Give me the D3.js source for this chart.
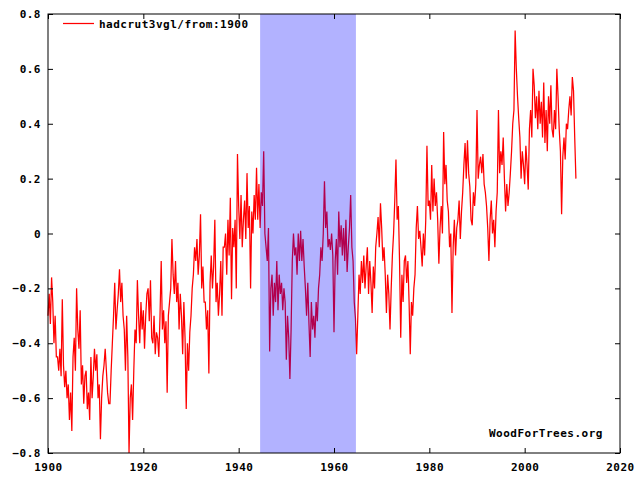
<!DOCTYPE html>
<html>
<head>
<meta charset="utf-8">
<script src="https://cdn.jsdelivr.net/npm/d3@7"></script>
<style>
  body { margin: 0; background: #fff; }
  text { font-family: "DejaVu Sans Mono", monospace; font-weight: bold; font-size: 11px; letter-spacing: 0.5px; fill: #000; }
</style>
</head>
<body>
<div id="chart"></div>
<script>
// hadcrut3vgl monthly anomaly at quarterly steps
const startYear = 1900;
const stepsPerYear = 4;
const anomaly = [
  -0.30, -0.22, -0.33, -0.16,  // 1900
  -0.25, -0.40, -0.30, -0.45,
  -0.45, -0.50, -0.42, -0.52,
  -0.24, -0.48, -0.56, -0.50,
  -0.60, -0.55, -0.68, -0.58,
  -0.72, -0.45, -0.38, -0.50,
  -0.20, -0.35, -0.42, -0.28,
  -0.55, -0.48, -0.62, -0.52,
  -0.50, -0.64, -0.58, -0.68,
  -0.45, -0.60, -0.52, -0.42,
  -0.50, -0.44, -0.60, -0.55,  // 1910
  -0.75, -0.60, -0.52, -0.48,
  -0.42, -0.50, -0.58, -0.62,
  -0.62, -0.50, -0.40, -0.30,
  -0.18, -0.35, -0.28, -0.22,
  -0.13, -0.25, -0.18, -0.30,
  -0.35, -0.50, -0.30, -0.45,
  -0.80, -0.60, -0.55, -0.68,
  -0.50, -0.35, -0.40, -0.17,
  -0.30, -0.40, -0.25, -0.35,
  -0.28, -0.42, -0.30, -0.22,  // 1920
  -0.20, -0.32, -0.17, -0.38,
  -0.40, -0.30, -0.44, -0.36,
  -0.38, -0.45, -0.30, -0.10,
  -0.35, -0.28, -0.40, -0.32,
  -0.58, -0.30, -0.25, -0.20,
  -0.02, -0.15, -0.22, -0.10,
  -0.25, -0.18, -0.35, -0.22,
  -0.30, -0.44, -0.25, -0.38,
  -0.64, -0.40, -0.50, -0.36,
  -0.30, -0.20, -0.15, -0.05,  // 1930
  -0.10, -0.02, -0.15, -0.08,
   0.07, -0.20, -0.12, -0.25,
  -0.25, -0.35, -0.28, -0.51,
  -0.18, -0.08, -0.20, -0.12,
   0.05, -0.25, -0.18, -0.30,
  -0.22, -0.10, -0.30, -0.05,
  -0.05,  0.00, -0.15,  0.05,
  -0.08,  0.13, -0.24,  0.02,
  -0.05,  0.05, -0.20,  0.29,
   0.10, -0.02,  0.14, -0.05,  // 1940
   0.05,  0.12, -0.02,  0.22,
   0.02,  0.10, -0.20,  0.08,
   0.00,  0.14,  0.05,  0.24,
   0.05,  0.18,  0.02,  0.15,
   0.10,  0.30,  0.00, -0.05,
  -0.10,  0.02, -0.43, -0.20,
  -0.15, -0.30, -0.18, -0.25,
  -0.10, -0.28, -0.15, -0.22,
  -0.18, -0.28, -0.20, -0.25,
  -0.46, -0.30, -0.38, -0.53,  // 1950
  -0.35, -0.10,  0.00, -0.08,
  -0.05, -0.15,  0.00, -0.10,
   0.01, -0.10, -0.02, -0.12,
  -0.20, -0.30, -0.18, -0.33,
  -0.45, -0.25, -0.35, -0.30,
  -0.38, -0.25, -0.32, -0.20,
  -0.15, -0.05, -0.10,  0.00,
   0.19,  0.02,  0.08, -0.05,
  -0.02, -0.06,  0.00, -0.08,
  -0.36, -0.10, -0.02, -0.15,  // 1960
   0.08, -0.05,  0.03, -0.08,
   0.02, -0.10,  0.05, -0.14,
  -0.05,  0.02,  0.14, -0.05,
  -0.10, -0.25, -0.31, -0.44,
  -0.30, -0.15, -0.22, -0.10,
  -0.18, -0.08, -0.20, -0.12,
  -0.05, -0.22, -0.10, -0.18,
  -0.29, -0.12, -0.20, -0.05,
   0.00,  0.06, -0.05,  0.11,
   0.02, -0.10, -0.05, -0.15,  // 1970
  -0.29, -0.15, -0.22, -0.35,
  -0.20, -0.08,  0.00,  0.12,
   0.27,  0.05,  0.10, -0.10,
  -0.38, -0.15, -0.25, -0.10,
  -0.08, -0.18, -0.10, -0.25,
  -0.44, -0.25, -0.30, -0.20,
  -0.15,  0.02,  0.10, -0.02,
   0.01, -0.05, -0.12,  0.00,
  -0.08,  0.05,  0.32,  0.10,
   0.12,  0.05,  0.25,  0.08,  // 1980
   0.20,  0.10,  0.15,  0.05,
  -0.11,  0.02,  0.10,  0.00,
   0.37,  0.18,  0.25,  0.12,
   0.08, -0.05,  0.00, -0.29,
  -0.05,  0.05, -0.08,  0.02,
   0.05,  0.12, -0.02,  0.08,
   0.15,  0.25,  0.33,  0.20,
   0.34,  0.22,  0.17,  0.05,
   0.03,  0.15,  0.10,  0.18,
   0.45,  0.20,  0.25,  0.28,  // 1990
   0.22,  0.29,  0.18,  0.15,
   0.10,  0.02, -0.10,  0.05,
   0.12,  0.00,  0.05, -0.05,
   0.08,  0.15,  0.45,  0.22,
   0.30,  0.25,  0.35,  0.20,
   0.08,  0.18,  0.10,  0.15,
   0.22,  0.30,  0.40,  0.45,
   0.74,  0.60,  0.50,  0.42,
   0.35,  0.20,  0.30,  0.25,
   0.18,  0.32,  0.25,  0.16,  // 2000
   0.38,  0.45,  0.35,  0.60,
   0.54,  0.42,  0.50,  0.38,
   0.52,  0.40,  0.48,  0.35,
   0.55,  0.33,  0.45,  0.30,
   0.50,  0.40,  0.54,  0.38,
   0.35,  0.45,  0.38,  0.60,
   0.50,  0.38,  0.30,  0.07,
   0.28,  0.35,  0.27,  0.40,
   0.38,  0.45,  0.50,  0.43,
   0.57,  0.52,  0.35,  0.20   // 2010
];

const xTicks = [1900, 1920, 1940, 1960, 1980, 2000, 2020];
const yTicks = [-0.8, -0.6, -0.4, -0.2, 0, 0.2, 0.4, 0.6, 0.8];
const band = [1944.5, 1964.6];
const seriesLabel = "hadcrut3vgl/from:1900";
const credit = "WoodForTrees.org";

(function(){
  const W = 640, H = 480;
  const plot = { left: 48, right: 620, top: 14, bottom: 453 };

  const svg = d3.select("#chart").append("svg")
      .attr("width", W)
      .attr("height", H);

  const x = d3.scaleLinear().domain([1900, 2020]).range([plot.left, plot.right]);
  const y = d3.scaleLinear().domain([-0.8, 0.8]).range([plot.bottom, plot.top]);

  const pts = anomaly.map((v, i) => ({ t: startYear + i / stepsPerYear, v: v }));

  // the series
  const line = d3.line().x(d => x(d.t)).y(d => y(d.v));
  svg.append("path")
      .datum(pts)
      .attr("fill", "none")
      .attr("stroke", "#ff0000")
      .attr("stroke-width", 1.25)
      .attr("d", line);

  // translucent band drawn over the line
  svg.append("rect")
      .attr("x", x(band[0]))
      .attr("y", plot.top)
      .attr("width", x(band[1]) - x(band[0]))
      .attr("height", plot.bottom - plot.top)
      .attr("fill", "#0000ff")
      .attr("fill-opacity", 0.3);

  // axes, ticks pointing inward on all four sides
  const fmtY = d => d === 0 ? "0" : d3.format(".1f")(d);

  svg.append("g")
      .attr("transform", `translate(0,${plot.bottom})`)
      .call(d3.axisBottom(x).tickValues(xTicks).tickFormat(d3.format("d"))
            .tickSizeInner(-5).tickSizeOuter(0).tickPadding(10));
  svg.append("g")
      .attr("transform", `translate(0,${plot.top})`)
      .call(d3.axisTop(x).tickValues(xTicks).tickFormat("")
            .tickSizeInner(-5).tickSizeOuter(0));
  svg.append("g")
      .attr("transform", `translate(${plot.left},0)`)
      .call(d3.axisLeft(y).tickValues(yTicks).tickFormat(fmtY)
            .tickSizeInner(-5).tickSizeOuter(0).tickPadding(7));
  svg.append("g")
      .attr("transform", `translate(${plot.right},0)`)
      .call(d3.axisRight(y).tickValues(yTicks).tickFormat("")
            .tickSizeInner(-5).tickSizeOuter(0));

  svg.selectAll(".domain").remove();
  svg.selectAll(".tick line").attr("stroke", "#000");
  svg.selectAll(".tick text")
      .attr("font-family", null)
      .attr("font-size", null);

  // frame
  svg.append("rect")
      .attr("x", plot.left)
      .attr("y", plot.top)
      .attr("width", plot.right - plot.left)
      .attr("height", plot.bottom - plot.top)
      .attr("fill", "none")
      .attr("stroke", "#000")
      .attr("stroke-width", 1);

  // key
  svg.append("line")
      .attr("x1", 63).attr("x2", 94)
      .attr("y1", 23.5).attr("y2", 23.5)
      .attr("stroke", "#ff0000")
      .attr("stroke-width", 1.25);
  svg.append("text")
      .attr("x", 99)
      .attr("y", 27.5)
      .text(seriesLabel);

  svg.append("text")
      .attr("x", 489)
      .attr("y", 437)
      .text(credit);
})();
</script>
</body>
</html>
